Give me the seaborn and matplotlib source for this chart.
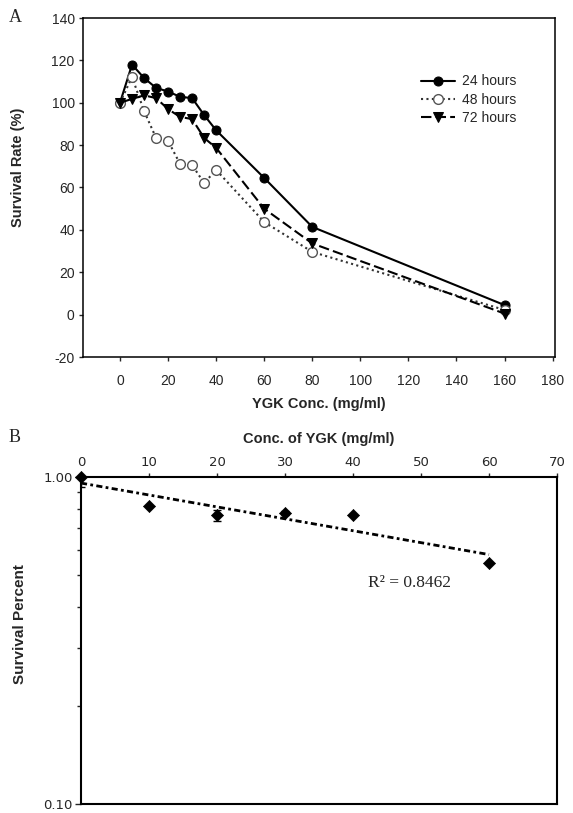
import numpy as np
import pandas as pd
import matplotlib
matplotlib.use("Agg")
import matplotlib.pyplot as plt
import seaborn as sns
from matplotlib.ticker import FixedLocator, NullFormatter

# ---------------- data ----------------
conc_a = [0, 5, 10, 15, 20, 25, 30, 35, 40, 60, 80, 160]
h24 = [100, 118, 111.7, 107, 105.3, 102.8, 102.2, 94.2, 87, 64.5, 41.4, 4.5]
h48 = [100, 112.2, 96.1, 83.4, 82, 71.1, 70.6, 62.1, 68.3, 43.7, 29.6, 2.2]
h72 = [100, 101.8, 103.5, 102.2, 97, 93.3, 92.3, 83.4, 78.7, 50, 33.6, 0.5]
series_labels = ["24 hours", "48 hours", "72 hours"]
xticks_a = [0, 20, 40, 60, 80, 100, 120, 140, 160, 180]
yticks_a = [-20, 0, 20, 40, 60, 80, 100, 120, 140]

conc_b = [0, 10, 20, 30, 40, 60]
surv_b = [1.0, 0.818, 0.765, 0.776, 0.765, 0.544]
err_b = [0.065, 0.0, 0.03, 0.01, 0.0, 0.0]
xticks_b = [0, 10, 20, 30, 40, 50, 60, 70]
yticks_b = [0.1, 1.0]
yticklabels_b = ["0.10", "1.00"]
yminor_b = [0.2, 0.3, 0.4, 0.5, 0.6, 0.7, 0.8, 0.9]
r2_label = "R\u00b2 = 0.8462"

# ---------------- style ----------------
sns.set_style("ticks")
plt.rcParams["font.family"] = ["Liberation Sans", "DejaVu Sans"]
plt.rcParams["axes.linewidth"] = 1.1
plt.rcParams["axes.unicode_minus"] = False

fig = plt.figure(figsize=(5.73, 8.13), dpi=100)
W, H = 573, 813

# ---------------- panel A ----------------
axA = fig.add_axes([83 / W, 1 - 357 / H, (555 - 83) / W, (357 - 18) / H])
sns.lineplot(x=conc_a, y=h24, ax=axA, color="black", lw=1.5, marker="o",
             ms=6.5, mec="black", mfc="black", label=series_labels[0])
sns.lineplot(x=conc_a, y=h48, ax=axA, color="#333333", lw=1.5,
             linestyle=(0, (1, 1.6)), marker="o", ms=7, mfc="white",
             mec="#555555", mew=1.0, label=series_labels[1])
sns.lineplot(x=conc_a, y=h72, ax=axA, color="black", lw=1.5,
             linestyle=(0, (5, 2)), marker="v", ms=6.5, mec="black",
             mfc="black", label=series_labels[2])

axA.set_xlim(-15.4, 181)
axA.set_ylim(-20, 140)
axA.set_xticks(xticks_a)
axA.set_yticks(yticks_a)
axA.tick_params(axis="x", length=3, width=1, pad=9, labelsize=10)
axA.tick_params(axis="y", length=3, width=1, pad=3, labelsize=10)
for s in axA.spines.values():
    s.set_visible(True)
    s.set_color("black")
axA.set_xlabel("YGK Conc. (mg/ml)", fontsize=10.5, fontweight="bold")
axA.set_ylabel("Survival Rate (%)", fontsize=10.5, fontweight="bold")
axA.xaxis.set_label_coords(0.5, -0.118)
axA.yaxis.set_label_coords(-0.123, 0.56)
axA.legend(loc="upper left", bbox_to_anchor=(0.705, 0.85), frameon=False,
           fontsize=10, handlelength=2.4, handletextpad=0.5,
           labelspacing=0.3, borderaxespad=0)

# ---------------- panel B ----------------
bot = 804
axB = fig.add_axes([81 / W, 1 - bot / H, (557 - 81) / W, (bot - 477) / H])
coef = np.polyfit(conc_b, np.log10(surv_b), 1)
xs = np.linspace(min(conc_b), max(conc_b), 60)
sns.lineplot(x=xs, y=10 ** np.polyval(coef, xs), ax=axB, color="black",
             lw=2.0, linestyle=(0, (2.2, 1.2, 1.0, 1.2)))
axB.errorbar(conc_b, surv_b, yerr=err_b, fmt="none", ecolor="black",
             elinewidth=1, capsize=3, capthick=1)
sns.scatterplot(x=conc_b, y=surv_b, ax=axB, marker="D", s=38,
                color="black", edgecolor="black", clip_on=False, zorder=5)

axB.set_yscale("log")
axB.set_xlim(0, 70)
axB.set_ylim(0.1, 1.0)
axB.set_yticks(yticks_b)
axB.set_yticklabels(yticklabels_b)
axB.yaxis.set_minor_locator(FixedLocator(yminor_b))
axB.yaxis.set_minor_formatter(NullFormatter())
axB.set_xticks(xticks_b)
axB.xaxis.tick_top()
axB.xaxis.set_label_position("top")
narrow = ["Liberation Sans Narrow", "DejaVu Sans"]
for lab in axB.get_xticklabels() + axB.get_yticklabels():
    lab.set_family(narrow)
    lab.set_fontsize(9.5)
axB.tick_params(axis="x", length=3, width=1, pad=3)
axB.tick_params(axis="y", which="major", length=4, width=1, pad=2)
axB.tick_params(axis="y", which="minor", length=3, width=1)
for s in axB.spines.values():
    s.set_visible(True)
    s.set_color("black")
    s.set_linewidth(1.5)
axB.set_xlabel("Conc. of YGK (mg/ml)", fontsize=10.5, fontweight="bold",
               labelpad=9)
axB.set_ylabel("Survival Percent", fontsize=11, fontweight="bold")
axB.yaxis.set_label_coords(-0.113, 0.55)
axB.text(0.603, 0.675, r2_label, transform=axB.transAxes, va="center",
         ha="left", fontsize=12.5, family=["Liberation Serif", "DejaVu Serif"])

# panel letters
fig.text(15 / W, 1 - 17 / H, "A", fontsize=13, va="center", ha="center",
         family=["Liberation Serif", "DejaVu Serif"])
fig.text(15 / W, 1 - 437 / H, "B", fontsize=13, va="center", ha="center",
         family=["Liberation Serif", "DejaVu Serif"])

fig.savefig("out.png", dpi=100, facecolor="white")
